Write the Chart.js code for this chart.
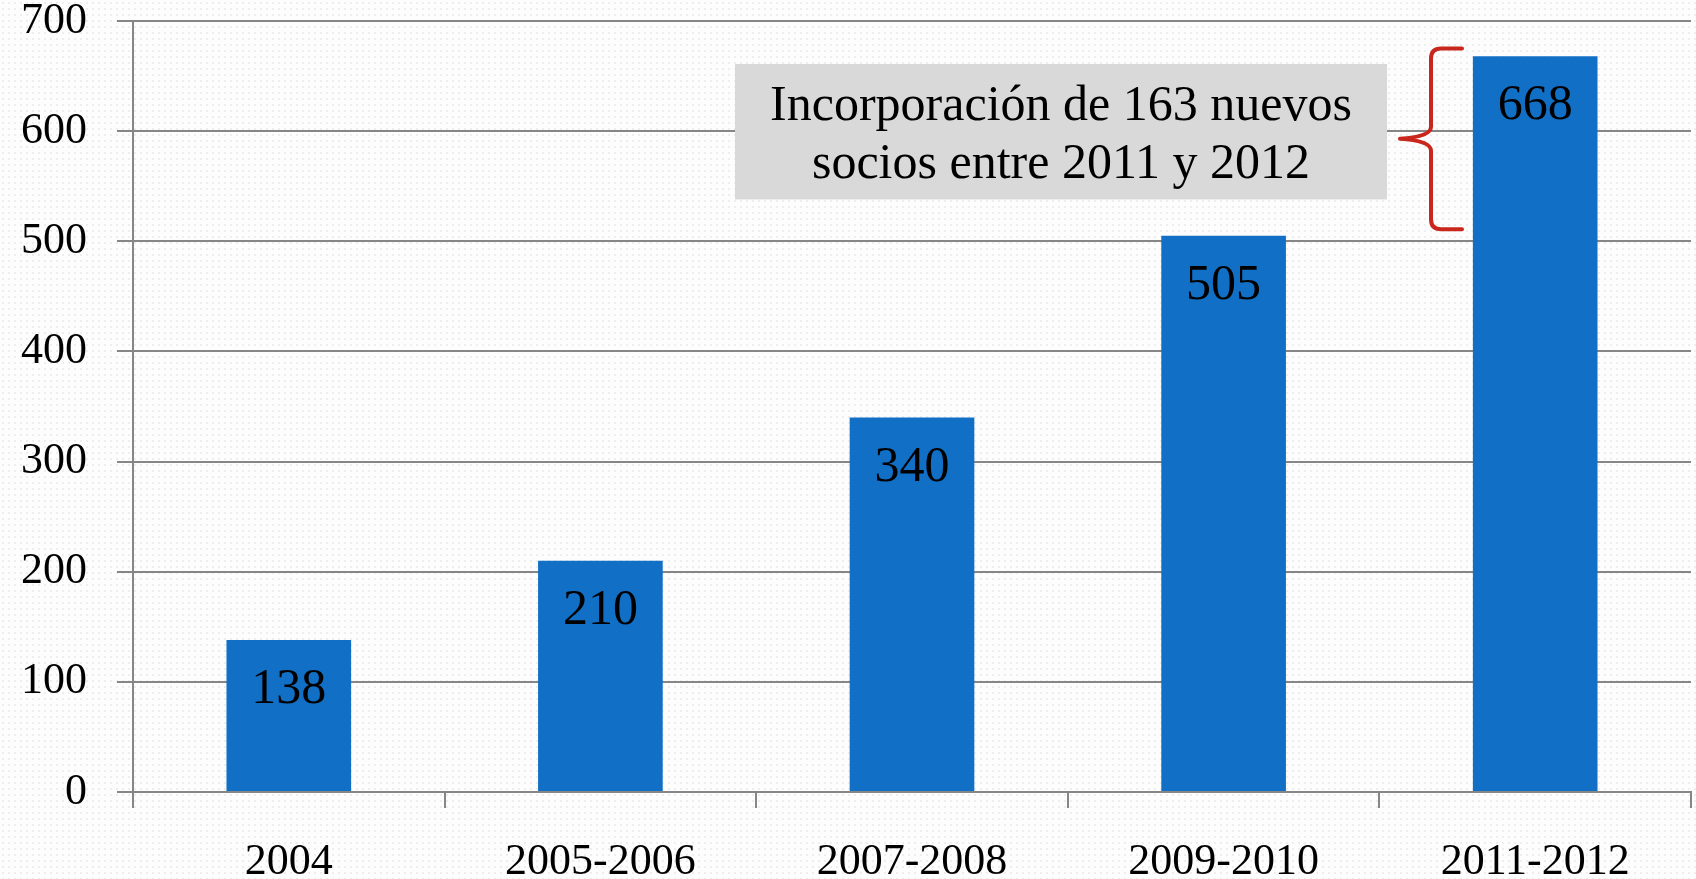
<!DOCTYPE html>
<html lang="es">
<head>
    <meta charset="UTF-8">
    <title>Socios 2004-2012</title>
    <style>
        * { margin: 0; padding: 0; box-sizing: border-box; }
        body {
            width: 1696px;
            height: 879px;
            overflow: hidden;
            background-color: #fdfdfd;
            background-image: radial-gradient(#eeeeee 1px, transparent 1.2px);
            background-size: 6px 6px;
        }
        canvas { display: block; }
    </style>
</head>
<body>
    <canvas id="sociosChart" width="1696" height="879"></canvas>

    <script src="https://cdn.jsdelivr.net/npm/chart.js"></script>
    <script>
        // Data
        const periodos = ["2004", "2005-2006", "2007-2008", "2009-2010", "2011-2012"];
        const socios = [138, 210, 340, 505, 668];
        const notaLineas = ["Incorporación de 163 nuevos", "socios entre 2011 y 2012"];

        const serif = "'Palatino Linotype', 'Book Antiqua', 'Liberation Serif', serif";

        // Value labels inside the top of each bar
        const barLabels = {
            id: "barLabels",
            afterDatasetsDraw(chart) {
                const ctx = chart.ctx;
                const meta = chart.getDatasetMeta(0);
                ctx.save();
                ctx.font = "50px " + serif;
                ctx.fillStyle = "#000";
                ctx.textAlign = "center";
                ctx.textBaseline = "middle";
                meta.data.forEach((bar, i) => {
                    ctx.fillText(String(socios[i]), bar.x, bar.y + 50);
                });
                ctx.restore();
            }
        };

        // Grey note box and red brace
        const nota = {
            id: "nota",
            afterDraw(chart) {
                const ctx = chart.ctx;
                const a = chart.chartArea;
                const y = chart.scales.y;
                ctx.save();

                // box
                const bx = a.left + 602, bw = 652;
                const by = y.getPixelForValue(661), bh = y.getPixelForValue(538) - by;
                ctx.fillStyle = "#d9d9d9";
                ctx.fillRect(bx, by, bw, bh);
                ctx.font = "50px " + serif;
                ctx.fillStyle = "#000";
                ctx.textAlign = "center";
                ctx.textBaseline = "middle";
                ctx.fillText(notaLineas[0], bx + bw / 2, by + 43);
                ctx.fillText(notaLineas[1], bx + bw / 2, by + 101);

                // brace
                const top = y.getPixelForValue(675);
                const bot = y.getPixelForValue(511);
                const mid = y.getPixelForValue(593);
                const xr = a.left + 1329, xv = a.left + 1298, xp = a.left + 1267;
                ctx.strokeStyle = "#c9271d";
                ctx.lineWidth = 4;
                ctx.lineCap = "round";
                ctx.lineJoin = "round";
                ctx.beginPath();
                ctx.moveTo(xr, top);
                ctx.lineTo(xv + 10, top);
                ctx.quadraticCurveTo(xv, top, xv, top + 10);
                ctx.lineTo(xv, mid - 12);
                ctx.quadraticCurveTo(xv, mid - 2, xp, mid);
                ctx.quadraticCurveTo(xv, mid + 2, xv, mid + 12);
                ctx.lineTo(xv, bot - 10);
                ctx.quadraticCurveTo(xv, bot, xv + 10, bot);
                ctx.lineTo(xr, bot);
                ctx.stroke();

                ctx.restore();
            }
        };

        const config = {
            type: "bar",
            data: {
                labels: periodos,
                datasets: [{
                    data: socios,
                    backgroundColor: "#116fc5",
                    borderWidth: 0,
                    categoryPercentage: 0.8,
                    barPercentage: 0.5
                }]
            },
            options: {
                responsive: false,
                animation: false,
                layout: { padding: { top: 21, right: 5, left: 0, bottom: 0 } },
                plugins: {
                    legend: { display: false },
                    tooltip: { enabled: false }
                },
                scales: {
                    x: {
                        offset: true,
                        grid: {
                            offset: true,
                            drawOnChartArea: false,
                            color: "#868686",
                            lineWidth: 2,
                            tickLength: 16
                        },
                        border: { color: "#868686", width: 2 },
                        ticks: {
                            color: "#000",
                            font: { family: serif, size: 44 },
                            padding: 28,
                            maxRotation: 0
                        },
                        afterFit(scale) { scale.height = 87; }
                    },
                    y: {
                        min: 0,
                        max: 700,
                        grid: {
                            color: "#868686",
                            lineWidth: 2,
                            tickLength: 16
                        },
                        border: { color: "#868686", width: 2 },
                        ticks: {
                            stepSize: 100,
                            color: "#000",
                            font: { family: serif, size: 44 },
                            padding: 30
                        },
                        afterFit(scale) {
                            scale.width = 133;
                            scale.paddingTop = 0;
                            scale.paddingBottom = 0;
                        }
                    }
                }
            },
            plugins: [barLabels, nota]
        };

        const sociosChart = new Chart(document.getElementById("sociosChart"), config);
    </script>
</body>
</html>
